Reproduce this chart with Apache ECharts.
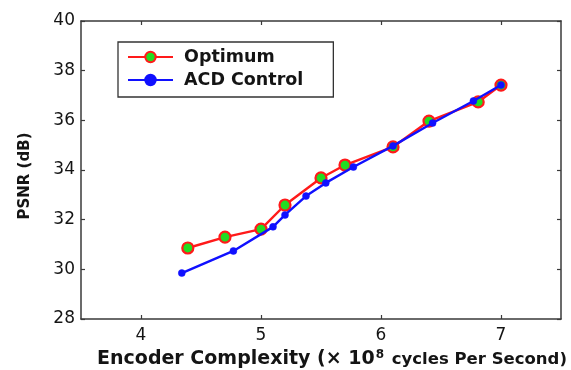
<!DOCTYPE html>
<html>
<head>
<meta charset="utf-8">
<script src="https://cdn.jsdelivr.net/npm/echarts@6/dist/echarts.min.js"></script>
<style>
  html, body { margin: 0; padding: 0; background: #fff; }
  #chart { width: 571px; height: 370px; }
</style>
</head>
<body>
<div id="chart"></div>
<script>
// Encoder complexity (x 10^8 cycles per second) vs PSNR (dB)
const optimumX = [4.39, 4.70, 5.00, 5.20, 5.50, 5.70, 6.10, 6.40, 6.81, 7.00];
const optimumY = [30.86, 31.30, 31.62, 32.59, 33.68, 34.20, 34.93, 35.97, 36.74, 37.42];
const acdX = [4.34, 4.77, 5.10, 5.20, 5.375, 5.54, 5.77, 6.10, 6.43, 6.77, 7.00];
const acdY = [29.85, 30.74, 31.71, 32.19, 32.95, 33.48, 34.12, 34.97, 35.89, 36.78, 37.42];
const xTicks = [4, 5, 6, 7];
const yTicks = [28, 30, 32, 34, 36, 38, 40];

const pairs = (xs, ys) => xs.map((x, i) => [x, ys[i]]);

const textColor = '#141414';
const axisColor = '#3a3a3a';
const boldFont = 'DejaVu Sans';

const chart = echarts.init(document.getElementById('chart'), null, { renderer: 'canvas' });

const baseX = {
  type: 'value', min: 3.5, max: 7.5,
  axisLine: { show: true, onZero: false, lineStyle: { color: axisColor, width: 1.5 } },
  splitLine: { show: false },
  axisTick: { show: true, inside: true, length: 4, customValues: xTicks, lineStyle: { color: axisColor, width: 1.2 } }
};
const baseY = {
  type: 'value', min: 28, max: 40, interval: 2,
  axisLine: { show: true, onZero: false, lineStyle: { color: axisColor, width: 1.5 } },
  splitLine: { show: false },
  axisTick: { show: true, inside: true, length: 4, customValues: yTicks, lineStyle: { color: axisColor, width: 1.2 } }
};

chart.setOption({
  animation: false,
  backgroundColor: '#fff',
  grid: { left: 81, right: 10, top: 21, bottom: 51, containLabel: false, outerBoundsMode: 'none' },
  legend: {
    orient: 'vertical',
    left: 118, top: 42,
    padding: [6, 30, 8, 9],
    itemGap: 5,
    itemWidth: 45, itemHeight: 13,
    borderColor: '#333', borderWidth: 1.3,
    backgroundColor: '#fff',
    textStyle: { fontFamily: boldFont, fontWeight: 'bold', fontSize: 17.5, color: textColor, padding: [0, 0, 0, 6] },
    data: ['Optimum', 'ACD Control']
  },
  xAxis: [
    Object.assign({}, baseX, {
      position: 'bottom',
      axisLabel: {
        customValues: xTicks, margin: 8,
        fontFamily: 'DejaVu Sans', fontSize: 17, color: textColor
      },
      name: '{a|Encoder Complexity (× 10}{s|8}{b| cycles Per Second)}',
      nameLocation: 'middle', nameGap: 30,
      nameTextStyle: {
        padding: [0, 0, 0, 22],
        rich: {
          a: { fontFamily: boldFont, fontWeight: 'bold', fontSize: 19, color: textColor },
          s: { fontFamily: boldFont, fontWeight: 'bold', fontSize: 12, color: textColor, verticalAlign: 'top', padding: [0, 2, 9, 1] },
          b: { fontFamily: boldFont, fontWeight: 'bold', fontSize: 16.5, color: textColor, letterSpacing: -0.5 }
        }
      }
    }),
    Object.assign({}, baseX, { position: 'top', axisLabel: { show: false } })
  ],
  yAxis: [
    Object.assign({}, baseY, {
      position: 'left',
      axisLabel: { margin: 6, fontFamily: 'DejaVu Sans', fontSize: 17, color: textColor },
      name: 'PSNR (dB)',
      nameLocation: 'middle', nameGap: 48,
      nameTextStyle: { fontFamily: boldFont, fontWeight: 'bold', fontSize: 15, color: textColor, padding: [0, 12, 0, 0] }
    }),
    Object.assign({}, baseY, { position: 'right', axisLabel: { show: false } })
  ],
  series: [
    {
      name: 'Optimum', type: 'line',
      data: pairs(optimumX, optimumY),
      lineStyle: { color: '#ff1a1a', width: 2.4 },
      symbol: 'circle', symbolSize: 11,
      itemStyle: { color: '#22dd22', borderColor: '#ff1a1a', borderWidth: 2.2 },
      z: 2
    },
    {
      name: 'ACD Control', type: 'line',
      data: pairs(acdX, acdY),
      lineStyle: { color: '#1010ff', width: 2.4 },
      symbol: 'circle', symbolSize: 7,
      itemStyle: { color: '#1010ff', borderColor: '#1010ff', borderWidth: 0.5 },
      z: 3
    }
  ]
});
</script>
</body>
</html>
